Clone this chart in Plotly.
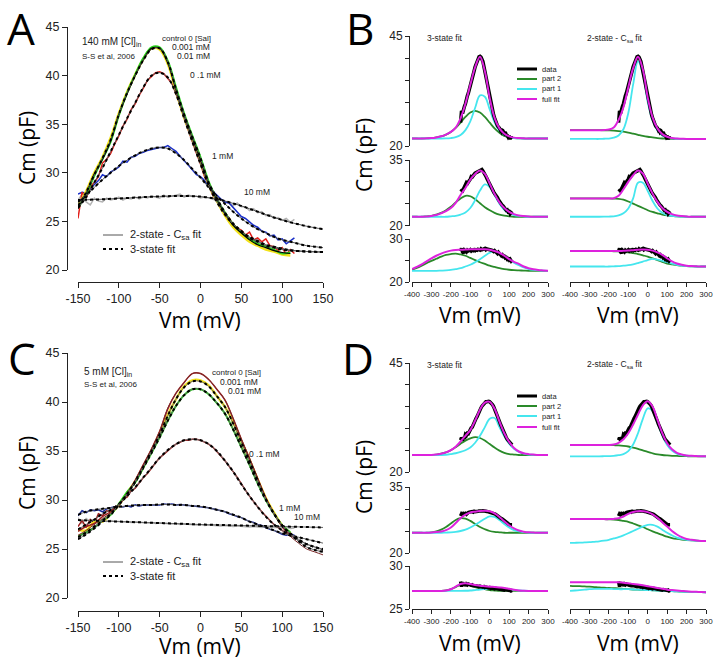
import plotly.graph_objects as go

W, H = 713, 658

# ---------------- DATA ----------------
V_FIT = list(range(-150, 151, 10))          # fit voltages, panels A/C
V_D5 = list(range(-150, 116, 5))            # noisy data voltages
V_D10 = list(range(-150, 111, 10))          # cluster data voltages
V_BD = list(range(-400, 301, 25))           # panels B/D voltages

# Panel A (140 mM Cl) fits
A_fit_ctrl = [26.6, 28.0, 29.8, 31.5, 33.4, 36.0, 38.2, 40.0, 41.6, 42.7, 42.8, 41.4, 38.6, 36.0, 33.7, 31.5,
              29.0, 27.4, 25.9, 24.8, 24.0, 23.3, 22.9, 22.5, 22.3, 22.1, 22.0, 21.95, 21.9, 21.87, 21.85]
A_fit_01 = [26.4, 27.5, 29.0, 30.5, 32.2, 33.9, 35.6, 37.2, 38.8, 40.0, 40.3, 39.8, 38.1, 35.6, 33.2, 30.9,
            28.7, 27.0, 25.7, 24.7, 24.0, 23.4, 23.0, 22.6, 22.4, 22.2, 22.05, 21.95, 21.9, 21.87, 21.85]
A_fit_1 = [27.0, 27.7, 28.5, 29.3, 30.0, 30.7, 31.3, 31.8, 32.2, 32.5, 32.6, 32.5, 32.0, 31.3, 30.4, 29.5,
           28.5, 27.6, 26.8, 26.0, 25.3, 24.7, 24.2, 23.8, 23.4, 23.1, 22.9, 22.7, 22.5, 22.4, 22.3]
A_fit_10 = [27.2, 27.22, 27.25, 27.28, 27.32, 27.36, 27.4, 27.45, 27.5, 27.54, 27.57, 27.6, 27.62, 27.62, 27.6,
            27.55, 27.45, 27.3, 27.1, 26.85, 26.6, 26.3, 26.0, 25.7, 25.4, 25.15, 24.9, 24.7, 24.5, 24.35, 24.2]

# Panel A data
A_dat_ctrl = [26.3, 27.9, 29.9, 31.4, 33.3, 36.0, 38.1, 40.0, 41.6, 42.8, 42.8, 41.3, 38.5, 35.9, 33.6, 31.3,
              28.9, 27.3, 25.8, 24.6, 23.8, 23.1, 22.6, 22.3, 22.0, 21.8, 21.7]
A_dat_0001 = [26.6, 28.1, 30.0, 31.6, 33.6, 36.1, 38.3, 40.1, 41.7, 42.8, 42.7, 41.2, 38.4, 35.7, 33.5, 31.2,
              28.8, 27.1, 25.6, 24.4, 23.6, 22.9, 22.5, 22.1, 21.9, 21.6, 21.5]
A_dat_001 = [26.4, 27.8, 29.7, 31.4, 33.2, 35.9, 38.2, 40.1, 41.8, 42.9, 42.9, 41.5, 38.8, 36.1, 33.8, 31.6,
             29.1, 27.3, 25.9, 24.7, 23.9, 23.2, 22.7, 22.4, 22.1, 21.7, 21.8]
A_dat_01 = [25.3, 28.0, 27.4, 28.6, 29.0, 29.6, 31.0, 31.4, 32.0, 33.0, 33.8, 34.8, 35.5, 36.5, 37.1, 38.0,
            38.7, 39.5, 39.9, 40.3, 40.4, 40.2, 39.7, 39.2, 38.1, 37.0, 35.6, 34.4, 33.0, 32.0, 30.9, 29.6,
            28.8, 27.7, 27.1, 26.4, 25.6, 25.4, 24.6, 24.3, 24.1, 23.6, 23.9, 23.1, 23.3, 22.9, 23.2, 22.5,
            22.4, 22.0, 22.3, 21.6, 22.1, 21.7]
A_dat_1 = [27.8, 28.0, 27.9, 28.4, 28.8, 29.2, 29.8, 29.6, 30.1, 30.3, 30.6, 31.2, 31.1, 31.6, 31.7, 32.0,
           32.1, 32.3, 32.4, 32.5, 32.6, 32.6, 32.8, 32.5, 32.2, 31.7, 31.3, 30.8, 30.3, 29.8, 29.6, 29.2,
           28.6, 28.1, 27.7, 27.3, 27.0, 26.9, 26.4, 25.9, 25.5, 25.3, 24.9, 24.6, 24.4, 24.0, 23.9, 23.5,
           23.6, 23.1, 23.2, 22.7, 23.0, 23.3]
A_dat_10 = [27.2, 27.8, 27.0, 26.7, 27.4, 27.1, 27.0, 27.4, 27.2, 27.3, 27.5, 27.2, 27.4, 27.3, 27.5, 27.3,
            27.5, 27.4, 27.6, 27.5, 27.4, 27.7, 27.5, 27.6, 27.7, 27.8, 27.5, 27.7, 27.6, 27.6, 27.4, 27.5,
            27.4, 27.3, 27.1, 27.3, 27.0, 26.9, 26.6, 26.9, 26.5, 26.5, 26.1, 26.3, 25.9, 26.0, 25.6, 25.7,
            25.3, 25.4, 25.1, 25.3, 24.9, 25.2]

# Panel C (5 mM Cl) fits
C_fit_ctrl = [26.4, 26.9, 27.5, 28.1, 28.7, 29.5, 30.6, 32.0, 33.6, 35.2, 37.0, 39.4, 40.9, 42.0, 42.9, 42.9,
              42.3, 41.3, 40.2, 38.3, 36.2, 34.3, 32.2, 30.2, 28.6, 27.3, 26.3, 25.6, 25.0, 24.7, 24.4]
C_fit_0001 = [26.2, 26.7, 27.3, 27.9, 28.6, 29.5, 30.6, 31.9, 33.4, 35.0, 36.7, 38.6, 40.3, 41.5, 42.1, 42.1,
              41.6, 40.6, 39.5, 37.8, 35.9, 34.0, 32.0, 30.1, 28.6, 27.4, 26.5, 25.8, 25.2, 24.9, 24.7]
C_fit_001 = [26.0, 26.5, 27.1, 27.8, 28.5, 29.5, 30.6, 31.8, 33.3, 34.8, 36.4, 38.1, 39.6, 40.7, 41.3, 41.3,
             40.8, 39.9, 38.8, 37.2, 35.4, 33.6, 31.7, 30.0, 28.6, 27.4, 26.6, 26.0, 25.5, 25.2, 25.0]
C_fit_01 = [27.0, 27.5, 28.0, 28.6, 29.0, 29.6, 30.4, 31.3, 32.3, 33.3, 34.3, 35.1, 35.7, 36.1, 36.2, 36.1,
            35.7, 35.0, 34.0, 32.9, 31.6, 30.4, 29.3, 28.3, 27.5, 26.9, 26.4, 25.9, 25.5, 25.2, 24.9]
C_fit_1 = [28.5, 28.8, 29.0, 29.1, 29.2, 29.3, 29.4, 29.45, 29.5, 29.5, 29.55, 29.55, 29.5, 29.5, 29.4, 29.35,
           29.2, 29.0, 28.8, 28.5, 28.2, 27.8, 27.5, 27.2, 26.9, 26.6, 26.4, 26.2, 26.0, 25.8, 25.6]
C_fit_10 = [27.95, 27.92, 27.89, 27.86, 27.83, 27.8, 27.77, 27.74, 27.71, 27.68, 27.65, 27.62, 27.59, 27.56,
            27.53, 27.5, 27.48, 27.46, 27.44, 27.42, 27.4, 27.38, 27.36, 27.34, 27.32, 27.3, 27.28, 27.26,
            27.24, 27.22, 27.2]

# Panel C data
C_dat_ctrl = [26.8, 27.3, 27.6, 28.3, 28.8, 29.5, 30.6, 32.0, 33.6, 35.2, 37.0, 39.3, 40.9, 42.0, 42.9, 42.9,
              42.3, 41.3, 40.2, 38.3, 36.2, 34.2, 32.2, 30.2, 28.6, 27.3, 26.3]
C_dat_0001 = [27.0, 26.9, 27.8, 27.8, 28.6, 29.5, 30.7, 31.9, 33.4, 35.0, 36.8, 38.7, 40.3, 41.6, 42.2, 42.2,
              41.7, 40.6, 39.5, 37.9, 36.0, 34.1, 32.1, 30.2, 28.7, 27.4, 26.6]
C_dat_001 = [26.3, 26.7, 27.2, 27.9, 28.5, 29.6, 30.8, 31.8, 33.3, 34.8, 36.4, 38.1, 39.6, 40.7, 41.3, 41.3,
             40.8, 39.9, 38.8, 37.2, 35.4, 33.6, 31.7, 30.0, 28.6, 27.4, 26.7]
C_dat_01 = [27.3, 27.9, 27.2, 28.0, 27.6, 28.6, 28.4, 28.9, 28.8, 29.3, 29.5, 30.1, 30.3, 30.9, 31.2, 31.8,
            32.3, 32.7, 33.3, 33.8, 34.3, 34.7, 35.1, 35.4, 35.7, 35.9, 36.1, 36.1, 36.2, 36.2, 36.1, 35.9,
            35.7, 35.4, 35.0, 34.5, 34.0, 33.5, 32.9, 32.3, 31.6, 31.0, 30.4, 29.8, 29.3, 28.8, 28.3, 27.9,
            27.5, 27.2, 26.9, 26.6, 26.4, 26.2]
C_dat_1 = [28.4, 28.9, 28.7, 29.0, 28.9, 29.0, 28.8, 29.1, 29.2, 29.3, 29.4, 29.3, 29.4, 29.3, 29.5, 29.4,
           29.5, 29.5, 29.5, 29.55, 29.5, 29.6, 29.55, 29.6, 29.5, 29.55, 29.5, 29.45, 29.4, 29.4, 29.35, 29.3,
           29.2, 29.1, 29.0, 28.9, 28.8, 28.6, 28.5, 28.3, 28.2, 28.0, 27.8, 27.7, 27.5, 27.4, 27.2, 27.0,
           26.9, 26.7, 26.5, 26.4, 26.5, 26.4]
C_dat_10 = [28.2, 27.6, 28.1, 27.8, 28.0, 27.7, 27.9, 27.8, 27.9, 27.8, 27.8, 27.75, 27.8, 27.7, 27.75, 27.7,
            27.7, 27.65, 27.7, 27.6, 27.65, 27.6, 27.6, 27.55, 27.6, 27.5, 27.55, 27.5, 27.5, 27.45, 27.5, 27.4,
            27.45, 27.4, 27.4, 27.35, 27.4, 27.35, 27.3, 27.35, 27.3, 27.3, 27.25, 27.3, 27.25, 27.2, 27.25,
            27.2, 27.2, 27.2, 27.15, 27.2, 27.1, 27.15]

# Panel B components (140 mM Cl): rows 0.1 mM, 1 mM, 10 mM
B3_full = [
    [21.7, 21.7, 21.7, 21.75, 21.8, 21.95, 22.2, 22.6, 23.2, 24.2, 26.3, 29.6, 33.9, 37.9, 40.3, 37.0, 30.9, 26.4,
     24.0, 22.8, 22.2, 21.9, 21.8, 21.75, 21.7, 21.7, 21.7, 21.7, 21.7],
    [22.0, 22.0, 22.0, 22.05, 22.2, 22.4, 22.8, 23.3, 24.0, 25.2, 27.0, 28.6, 30.5, 31.8, 32.6, 31.8, 29.6, 27.2,
     25.3, 24.0, 23.1, 22.6, 22.3, 22.15, 22.05, 22.0, 22.0, 22.0, 22.0],
    [23.0, 23.5, 24.1, 24.8, 25.5, 26.1, 26.6, 27.0, 27.3, 27.45, 27.5, 27.55, 27.6, 27.6, 27.6, 27.6, 27.5, 27.2,
     26.8, 26.1, 25.3, 24.7, 24.2, 23.6, 23.2, 22.95, 22.8, 22.7, 22.6]]
B3_part2 = [
    [21.7, 21.7, 21.7, 21.75, 21.8, 21.95, 22.2, 22.6, 23.2, 24.1, 25.3, 26.6, 27.6, 28.0, 27.6, 26.6, 25.3, 24.0,
     23.0, 22.3, 21.95, 21.8, 21.75, 21.7, 21.7, 21.7, 21.7, 21.7, 21.7],
    [22.0, 22.0, 22.0, 22.1, 22.2, 22.5, 22.9, 23.5, 24.3, 25.3, 26.2, 26.8, 26.7, 26.0, 25.1, 24.2, 23.5, 22.9,
     22.5, 22.25, 22.1, 22.0, 22.0, 22.0, 22.0, 22.0, 22.0, 22.0, 22.0],
    [22.9, 23.3, 23.8, 24.4, 24.9, 25.4, 25.9, 26.3, 26.5, 26.6, 26.4, 26.1, 25.6, 25.1, 24.6, 24.2, 23.8, 23.5,
     23.2, 23.0, 22.85, 22.75, 22.7, 22.65, 22.6, 22.6, 22.6, 22.6, 22.6]]
B3_part1 = [
    [21.7, 21.7, 21.7, 21.7, 21.7, 21.7, 21.7, 21.72, 21.8, 22.0, 22.5, 23.6, 25.6, 28.7, 31.5, 31.2, 28.3, 25.4,
     23.5, 22.5, 22.0, 21.8, 21.75, 21.7, 21.7, 21.7, 21.7, 21.7, 21.7],
    [22.0, 22.0, 22.0, 22.0, 22.0, 22.0, 22.0, 22.0, 22.1, 22.2, 22.5, 23.0, 24.0, 25.8, 28.0, 29.4, 28.8, 26.9,
     25.0, 23.6, 22.8, 22.4, 22.2, 22.1, 22.0, 22.0, 22.0, 22.0, 22.0],
    [22.6, 22.6, 22.6, 22.6, 22.6, 22.6, 22.65, 22.7, 22.8, 23.0, 23.2, 23.6, 24.0, 24.6, 25.3, 26.1, 26.8, 27.1,
     26.6, 26.0, 25.2, 24.5, 23.9, 23.4, 23.0, 22.8, 22.7, 22.65, 22.6]]
B2_full = [
    [23.6, 23.6, 23.6, 23.6, 23.6, 23.6, 23.6, 23.65, 23.75, 24.2, 25.9, 28.8, 33.3, 37.7, 40.3, 37.4, 31.0, 26.5,
     24.0, 22.7, 22.1, 21.8, 21.7, 21.65, 21.6, 21.6, 21.6, 21.6, 21.6],
    [26.2, 26.2, 26.2, 26.2, 26.2, 26.2, 26.2, 26.2, 26.2, 26.25, 26.8, 28.3, 30.0, 31.5, 32.6, 31.9, 29.6, 27.3,
     25.4, 24.0, 23.1, 22.6, 22.3, 22.15, 22.05, 22.0, 22.0, 22.0, 22.0],
    [27.2, 27.2, 27.2, 27.2, 27.2, 27.2, 27.2, 27.2, 27.2, 27.2, 27.2, 27.25, 27.3, 27.4, 27.5, 27.55, 27.5, 27.3,
     26.9, 26.3, 25.5, 24.8, 24.3, 24.0, 23.8, 23.7, 23.65, 23.6, 23.6]]
B2_part2 = [
    [23.6, 23.6, 23.6, 23.6, 23.6, 23.6, 23.6, 23.58, 23.55, 23.5, 23.4, 23.25, 23.05, 22.8, 22.55, 22.3, 22.1,
     21.95, 21.8, 21.7, 21.65, 21.6, 21.6, 21.6, 21.6, 21.6, 21.6, 21.6, 21.6],
    [26.2, 26.2, 26.2, 26.2, 26.2, 26.2, 26.2, 26.2, 26.2, 26.15, 26.1, 25.9, 25.5, 25.0, 24.5, 24.0, 23.5, 23.1,
     22.8, 22.5, 22.3, 22.2, 22.1, 22.05, 22.0, 22.0, 22.0, 22.0, 22.0],
    [27.2, 27.2, 27.2, 27.2, 27.2, 27.2, 27.2, 27.2, 27.2, 27.15, 27.1, 27.0, 26.9, 26.7, 26.5, 26.2, 25.9, 25.5,
     25.1, 24.7, 24.3, 24.1, 23.9, 23.8, 23.7, 23.65, 23.6, 23.6, 23.6]]
B2_part1 = [
    [21.6, 21.6, 21.6, 21.6, 21.6, 21.6, 21.6, 21.65, 21.7, 21.9, 22.4, 23.8, 27.5, 34.0, 39.3, 36.5, 30.0, 25.8,
     23.5, 22.4, 21.9, 21.75, 21.65, 21.6, 21.6, 21.6, 21.6, 21.6, 21.6],
    [22.0, 22.0, 22.0, 22.0, 22.0, 22.0, 22.0, 22.02, 22.05, 22.1, 22.3, 22.8, 23.9, 26.2, 29.8, 29.8, 27.9, 25.6,
     23.9, 22.9, 22.4, 22.2, 22.1, 22.05, 22.0, 22.0, 22.0, 22.0, 22.0],
    [23.6, 23.6, 23.6, 23.6, 23.6, 23.6, 23.6, 23.6, 23.6, 23.65, 23.7, 23.8, 23.9, 24.1, 24.4, 24.75, 25.1, 25.4,
     25.2, 24.9, 24.6, 24.3, 24.0, 23.8, 23.7, 23.65, 23.6, 23.6, 23.6]]

# Panel D components (5 mM Cl): rows 0.1 mM, 1 mM, 10 mM
D3_full = [
    [23.9, 23.9, 23.9, 23.9, 23.9, 24.0, 24.2, 24.5, 25.0, 25.8, 27.0, 28.3, 29.6, 31.8, 34.3, 35.9, 36.1, 34.5,
     31.6, 28.9, 26.9, 25.5, 24.7, 24.3, 24.1, 24.0, 23.9, 23.9, 23.9],
    [24.6, 24.6, 24.6, 24.6, 24.65, 24.75, 24.9, 25.2, 25.8, 26.8, 27.9, 28.7, 29.2, 29.4, 29.55, 29.6, 29.5, 29.0,
     28.2, 27.2, 26.3, 25.6, 25.1, 24.85, 24.7, 24.65, 24.6, 24.6, 24.6],
    [27.1, 27.1, 27.1, 27.1, 27.1, 27.1, 27.1, 27.15, 27.3, 27.6, 27.9, 28.0, 27.9, 27.8, 27.7, 27.65, 27.6, 27.55,
     27.5, 27.45, 27.35, 27.25, 27.15, 27.12, 27.1, 27.1, 27.1, 27.1, 27.1]]
D3_part2 = [
    [23.9, 23.9, 23.9, 23.9, 23.9, 24.0, 24.2, 24.5, 25.0, 25.7, 26.5, 27.2, 27.7, 28.0, 27.8, 27.2, 26.4, 25.6,
     24.9, 24.4, 24.1, 24.0, 23.9, 23.9, 23.9, 23.9, 23.9, 23.9, 23.9],
    [24.6, 24.6, 24.6, 24.6, 24.7, 24.9, 25.3, 25.9, 26.7, 27.5, 27.9, 27.8, 27.3, 26.6, 25.9, 25.4, 25.0, 24.8,
     24.7, 24.6, 24.6, 24.6, 24.6, 24.6, 24.6, 24.6, 24.6, 24.6, 24.6],
    [27.1, 27.1, 27.1, 27.1, 27.1, 27.1, 27.1, 27.15, 27.3, 27.55, 27.8, 27.9, 27.75, 27.55, 27.4, 27.3, 27.2, 27.15,
     27.1, 27.1, 27.1, 27.1, 27.1, 27.1, 27.1, 27.1, 27.1, 27.1, 27.1]]
D3_part1 = [
    [23.9, 23.9, 23.9, 23.9, 23.9, 23.9, 23.9, 23.95, 24.1, 24.3, 24.6, 25.0, 25.6, 26.7, 28.3, 30.3, 32.2, 32.4,
     30.3, 28.2, 26.5, 25.3, 24.6, 24.2, 24.0, 23.95, 23.9, 23.9, 23.9],
    [24.6, 24.6, 24.6, 24.6, 24.6, 24.6, 24.6, 24.65, 24.7, 24.8, 25.0, 25.3, 25.8, 26.4, 27.1, 27.8, 28.3, 28.2,
     27.5, 26.6, 25.8, 25.2, 24.9, 24.75, 24.65, 24.6, 24.6, 24.6, 24.6],
    [27.1, 27.1, 27.1, 27.1, 27.1, 27.1, 27.1, 27.1, 27.1, 27.1, 27.1, 27.12, 27.15, 27.2, 27.25, 27.32, 27.4, 27.45,
     27.4, 27.35, 27.3, 27.22, 27.15, 27.12, 27.1, 27.1, 27.1, 27.1, 27.1]]
D2_full = [
    [26.2, 26.2, 26.2, 26.2, 26.2, 26.2, 26.2, 26.2, 26.2, 26.3, 26.7, 27.5, 28.9, 30.9, 33.2, 35.3, 36.2, 35.0,
     32.0, 28.9, 26.6, 25.2, 24.4, 24.0, 23.8, 23.7, 23.65, 23.6, 23.6],
    [27.7, 27.7, 27.7, 27.7, 27.7, 27.7, 27.7, 27.7, 27.7, 27.75, 27.9, 28.3, 28.9, 29.3, 29.5, 29.5, 29.3, 28.8,
     28.0, 27.0, 26.0, 25.0, 24.2, 23.6, 23.2, 23.0, 22.85, 22.75, 22.7],
    [28.1, 28.1, 28.1, 28.1, 28.1, 28.1, 28.1, 28.1, 28.1, 28.1, 28.1, 28.05, 28.0, 27.9, 27.85, 27.75, 27.65,
     27.55, 27.45, 27.35, 27.25, 27.2, 27.15, 27.1, 27.05, 27.02, 27.0, 26.97, 26.95]]
D2_part2 = [
    [26.2, 26.2, 26.2, 26.2, 26.2, 26.2, 26.2, 26.2, 26.2, 26.15, 26.1, 26.0, 25.85, 25.6, 25.3, 24.95, 24.6, 24.3,
     24.05, 23.9, 23.8, 23.72, 23.68, 23.65, 23.62, 23.6, 23.6, 23.6, 23.6],
    [27.7, 27.7, 27.7, 27.7, 27.7, 27.7, 27.7, 27.7, 27.65, 27.6, 27.5, 27.3, 27.1, 26.7, 26.3, 25.9, 25.4, 24.9,
     24.5, 24.1, 23.7, 23.4, 23.2, 23.05, 22.95, 22.87, 22.8, 22.75, 22.7],
    [27.7, 27.67, 27.65, 27.62, 27.6, 27.55, 27.5, 27.47, 27.45, 27.42, 27.4, 27.35, 27.3, 27.27, 27.25, 27.22,
     27.2, 27.17, 27.15, 27.12, 27.1, 27.07, 27.05, 27.02, 27.0, 26.98, 26.97, 26.96, 26.95]]
D2_part1 = [
    [23.6, 23.6, 23.6, 23.6, 23.6, 23.6, 23.6, 23.62, 23.65, 23.7, 23.85, 24.1, 24.8, 26.3, 28.9, 32.2, 34.6, 34.0,
     31.3, 28.4, 26.2, 24.9, 24.2, 23.9, 23.75, 23.7, 23.65, 23.6, 23.6],
    [22.3, 22.32, 22.35, 22.4, 22.45, 22.55, 22.65, 22.8, 23.0, 23.3, 23.6, 24.0, 24.5, 25.0, 25.5, 26.0, 26.4,
     26.4, 26.0, 25.3, 24.6, 24.0, 23.5, 23.2, 23.0, 22.9, 22.8, 22.75, 22.7],
    [27.1, 27.15, 27.2, 27.25, 27.3, 27.33, 27.35, 27.35, 27.35, 27.32, 27.3, 27.3, 27.3, 27.27, 27.25, 27.22, 27.2,
     27.17, 27.15, 27.12, 27.1, 27.07, 27.05, 27.02, 27.0, 26.98, 26.97, 26.96, 26.95]]

AC_XTICKS = [-150, -100, -50, 0, 50, 100, 150]
AC_YTICKS = [20, 25, 30, 35, 40, 45]
BD_XTICKS = [-400, -300, -200, -100, 0, 100, 200, 300]

# ---------------- COLOURS / STYLES ----------------
GRAY, BLUE, RED, DRED = "#b4b4b4", "#1a2fc8", "#e3201b", "#9a1f1f"
YELLOW, GREEN = "#f2e21a", "#2ad11e"
P2, P1, FULL = "#2a8a2a", "#45e6ee", "#dd22dd"
AXC = "#222222"
SANS = "Liberation Sans, Arial, sans-serif"
TICKFONT = dict(family=SANS, size=12.5, color="#222")
BIGFONT = "Open Sans, Liberation Sans, sans-serif"


def fx(p):
    return p / W


def fy(p):
    return 1 - p / H


fig = go.Figure()


def line(x, y, xa, ya, color, width, dash="solid", shape="linear"):
    fig.add_trace(go.Scatter(x=x, y=y, xaxis=xa, yaxis=ya, mode="lines", hoverinfo="skip",
                             line=dict(color=color, width=width, dash=dash, shape=shape)))


# ---------- Panel A ----------
for dat, col, w in [(A_dat_10, GRAY, 1.5), (A_dat_1, BLUE, 1.5), (A_dat_01, RED, 1.5)]:
    line(V_D5, dat, "x", "y", col, w)
line(V_D10, A_dat_0001, "x", "y", YELLOW, 2.5, shape="spline")
line(V_D10, A_dat_001, "x", "y", GREEN, 2, shape="spline")
line(V_D10, A_dat_ctrl, "x", "y", "#000", 1.2, shape="spline")
for fit in [A_fit_10, A_fit_1, A_fit_01, A_fit_ctrl]:
    line(V_FIT, fit, "x", "y", "#555", 1, shape="spline")
    line(V_FIT, fit, "x", "y", "#000", 2, dash="dot", shape="spline")

# ---------- Panel C ----------
for dat, col, w in [(C_dat_10, GRAY, 1.5), (C_dat_1, "#1a2a9a", 1.5), (C_dat_01, DRED, 1.5)]:
    line(V_D5, dat, "x2", "y2", col, w)
line(V_D10, C_dat_0001, "x2", "y2", YELLOW, 2.5, shape="spline")
line(V_D10, C_dat_001, "x2", "y2", GREEN, 2, shape="spline")
line(V_D10, C_dat_ctrl, "x2", "y2", DRED, 1.5, shape="spline")
line(V_FIT, C_fit_ctrl, "x2", "y2", "#7a2a2a", 1, shape="spline")
for fit in [C_fit_10, C_fit_1, C_fit_01, C_fit_001, C_fit_0001]:
    line(V_FIT, fit, "x2", "y2", "#666", 1, shape="spline")
    line(V_FIT, fit, "x2", "y2", "#000", 2, dash="dot", shape="spline")

# ---------- Panels B and D ----------
B_DATA = [A_dat_01, A_dat_1, A_dat_10]
D_DATA = [C_dat_01, C_dat_1, C_dat_10]
groups = [
    ("x3", ["y3", "y4", "y5"], B3_full, B3_part2, B3_part1, B_DATA),
    ("x4", ["y6", "y7", "y8"], B2_full, B2_part2, B2_part1, B_DATA),
    ("x5", ["y9", "y10", "y11"], D3_full, D3_part2, D3_part1, D_DATA),
    ("x6", ["y12", "y13", "y14"], D2_full, D2_part2, D2_part1, D_DATA),
]
for xa, yas, full, p2, p1, data in groups:
    for i, ya in enumerate(yas):
        line(V_BD, p2[i], xa, ya, P2, 1.8, shape="spline")
        line(V_BD, p1[i], xa, ya, P1, 1.8, shape="spline")
        line(V_D5, data[i], xa, ya, "#000", 3.5)
        line(V_BD, full[i], xa, ya, FULL, 2, shape="spline")

# ---------------- AXES ----------------
def base_axis(**kw):
    d = dict(showgrid=False, zeroline=False, showline=True, linecolor=AXC, linewidth=1, automargin=False,
             ticks="outside", ticklen=5, tickwidth=1, tickcolor=AXC, tickfont=TICKFONT, fixedrange=True,
             tickangle=0, ticklabeloverflow="allow")
    d.update(kw)
    return d


def labels(vals):
    return [str(v) for v in vals]


lay = {}
# Panel A
lay["xaxis"] = base_axis(domain=[fx(78), fx(323)], range=[-150, 150], anchor="free", position=fy(282),
                         tickvals=AC_XTICKS, ticktext=labels(AC_XTICKS))
lay["yaxis"] = base_axis(domain=[fy(270), fy(27)], range=[20, 45], anchor="free", position=fx(67),
                         tickvals=AC_YTICKS, ticktext=labels(AC_YTICKS))
# Panel C
lay["xaxis2"] = base_axis(domain=[fx(78), fx(323)], range=[-150, 150], anchor="free", position=fy(611),
                          tickvals=AC_XTICKS, ticktext=labels(AC_XTICKS))
lay["yaxis2"] = base_axis(domain=[fy(598), fy(353)], range=[20, 45], anchor="free", position=fx(67),
                          tickvals=AC_YTICKS, ticktext=labels(AC_YTICKS))

small_x = dict(family=SANS, size=8, color="#222")
small_y = dict(family=SANS, size=12, color="#222")
for name, dom, anc in [("xaxis3", [412, 548], "y5"), ("xaxis4", [570, 706], "y8"),
                       ("xaxis5", [412, 548], "y11"), ("xaxis6", [570, 706], "y14")]:
    lay[name] = base_axis(domain=[fx(dom[0]), fx(dom[1])], range=[-400, 300], anchor=anc,
                          tickvals=BD_XTICKS, ticktext=labels(BD_XTICKS), tickfont=small_x, ticklen=4)

rows = [
    # (left y, right y, top px, bottom px, range, labelled ticks, minor ticks)
    ("yaxis3", "yaxis6", 36, 146, [20, 45], [20, 45], [25, 30, 35, 40]),
    ("yaxis4", "yaxis7", 160, 225.5, [20, 35], [20, 35], [25, 30]),
    ("yaxis5", "yaxis8", 239, 282, [20, 30], [20, 30], [25]),
    ("yaxis9", "yaxis12", 363, 472, [20, 45], [20, 45], [25, 30, 35, 40]),
    ("yaxis10", "yaxis13", 487, 553, [20, 35], [20, 35], [25, 30]),
    ("yaxis11", "yaxis14", 566, 609, [25, 30], [25, 30], []),
]
for left, right, top, bot, rng, tv, mv in rows:
    lay[left] = base_axis(domain=[fy(bot), fy(top)], range=rng, anchor="free", position=fx(409),
                          tickvals=tv, ticktext=labels(tv), tickfont=small_y, ticklen=4,
                          minor=dict(tickmode="array", tickvals=mv, ticks="outside", ticklen=4,
                                     tickcolor=AXC, tickwidth=1))
    lay[right] = dict(domain=[fy(bot), fy(top)], range=rng, visible=False, fixedrange=True, automargin=False)

# ---------------- TEXT ----------------
ann = []


def text(t, x, y, size, xanchor="left", family=SANS, angle=0, color="#222"):
    ann.append(dict(text=t, x=fx(x), y=fy(y), xref="paper", yref="paper", xanchor=xanchor, yanchor="middle",
                    showarrow=False, textangle=angle, font=dict(family=family, size=size, color=color)))


# panel letters
for t, x, y in [("A", 21, 28), ("B", 360, 28), ("C", 22, 358), ("D", 358, 358)]:
    text(t, x, y, 44, "center", BIGFONT, color="#000")
# axis titles
for x, y in [(27, 148), (27, 473), (364, 155), (364, 477)]:
    text("Cm (pF)", x, y, 21, "center", BIGFONT, angle=-90, color="#000")
for x, y in [(200, 320), (200, 646), (480, 315), (638, 315), (480, 643), (638, 643)]:
    text("Vm (mV)", x, y, 21, "center", BIGFONT, color="#000")

# Panel A labels
text("140 mM [Cl]<sub>in</sub>", 80, 42, 10)
text("S-S et al, 2006", 80, 56, 8)
text("control 0 [Sal]", 213, 39, 8, "right")
text("0.001 mM", 212, 47, 8.5, "right")
text("0.01 mM", 212, 56, 8.5, "right")
text("0 .1 mM", 188, 75, 8.5)
text("1 mM", 210, 156, 8.5)
text("10 mM", 242, 192, 8.5)
# Panel C labels
text("5 mM [Cl]<sub>in</sub>", 82, 372, 10)
text("S-S et al, 2006", 82, 384, 8)
text("control 0 [Sal]", 263, 373, 8, "right")
text("0.001 mM", 260, 382, 8.5, "right")
text("0.01 mM", 263, 391, 8.5, "right")
text("0 .1 mM", 247, 454, 8.5)
text("1 mM", 277, 508, 8.5)
text("10 mM", 292, 517, 8.5)

# A / C legends
shapes = []


def key(x0, x1, y, color, width, dash="solid"):
    shapes.append(dict(type="line", xref="paper", yref="paper", x0=fx(x0), x1=fx(x1), y0=fy(y), y1=fy(y),
                       line=dict(color=color, width=width, dash=dash)))


for y0 in [235, 562]:
    key(103, 123, y0, "#555", 1)
    key(103, 123, y0 + 14, "#000", 2, "dot")
    text("2-state - C<sub>sa</sub> fit", 128, y0, 11)
    text("3-state fit", 128, y0 + 14, 11)

# B / D titles and legends
for ytop, ylist in [(38, [69, 79, 89, 99]), (365, [396, 406, 416, 427])]:
    text("3-state fit", 425, ytop, 8.5)
    text("2-state - C<sub>sa</sub> fit", 585, ytop, 8.5)
    for (lbl, col, w), yy in zip([("data", "#000", 3), ("part 2", P2, 2), ("part 1", P1, 2),
                                   ("full fit", FULL, 2)], ylist):
        key(517, 537, yy, col, w)
        text(lbl, 540, yy, 7.5)

fig.update_layout(width=W, height=H, margin=dict(l=0, r=0, t=0, b=0, pad=0), showlegend=False,
                  template="none", paper_bgcolor="white", plot_bgcolor="white",
                  annotations=ann, shapes=shapes, **lay)

fig.write_html("out.html", config={"displayModeBar": False, "staticPlot": True},
               post_script="document.body.style.margin='0px';")
